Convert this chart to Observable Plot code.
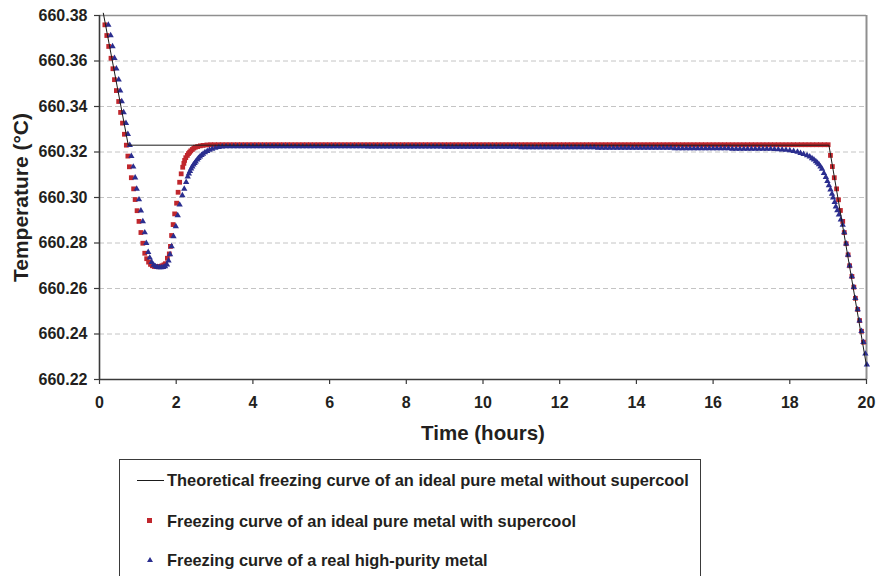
<!DOCTYPE html>
<html>
<head>
<meta charset="utf-8">
<script src="https://cdn.jsdelivr.net/npm/d3@7"></script>
<script src="https://cdn.jsdelivr.net/npm/@observablehq/plot@0.6"></script>
<style>
  html, body { margin: 0; padding: 0; background: #fff; }
  #wrap { position: relative; width: 885px; height: 576px; overflow: hidden; background: #fff;
          font-family: "Liberation Sans", Arial, sans-serif; color: #231f20; }
  #chart { position: absolute; left: 0; top: 0; }
  #legend { position: absolute; left: 119px; top: 459px; width: 582px; height: 150px;
            border: 1.5px solid #3a3a3a; box-sizing: border-box; background: #fff; }
  .row { position: absolute; left: 0; height: 20px; line-height: 20px; font-weight: bold; font-size: 16.4px; white-space: nowrap; }
  .txt { position: absolute; left: 47px; top: 0; }
  .sw { position: absolute; }
</style>
</head>
<body>
<div id="wrap">
  <div id="chart"></div>
  <div id="legend"></div>
</div>
<script>
// ---------- data ----------
const xTicks = [0, 2, 4, 6, 8, 10, 12, 14, 16, 18, 20];
const yTicks = [660.22, 660.24, 660.26, 660.28, 660.30, 660.32, 660.34, 660.36, 660.38];

const seriesNames = [
  "Theoretical freezing curve of an ideal pure metal without supercool",
  "Freezing curve of an ideal pure metal with supercool",
  "Freezing curve of a real high-purity metal"
];

// Theoretical curve (no supercool)
const theoHours = [0.10, 0.75, 19.02, 20.0];
const theoTemps = [660.381, 660.323, 660.323, 660.226];

// Ideal metal with supercool (red squares)
const redDipHours = [0.14,0.19,0.24,0.30,0.35,0.39,0.44,0.50,0.55,0.60,
  0.65,0.70,0.74,0.78,0.83,0.89,0.93,0.98,1.03,1.08,
  1.13,1.18,1.23,1.28,1.33,1.38,1.43,1.48,1.53,1.58,
  1.63,1.68,1.72,1.77,1.82,1.85,1.88,1.92,1.96,2.01,
  2.05,2.09,2.13,2.17,2.20,2.22,2.25,2.29,2.32,2.35,
  2.38,2.42,2.46,2.50,2.56,2.63,2.70,2.80,2.90,3.00];
const redDipTemps = [660.3759,660.3712,660.3664,660.3612,660.3566,660.3518,660.3470,660.3422,660.3374,660.3327,
  660.3278,660.3230,660.3182,660.3135,660.3087,660.3038,660.2991,660.2942,660.2895,660.2846,
  660.2799,660.2755,660.2731,660.2716,660.2706,660.2700,660.2697,660.2696,660.2696,660.2697,
  660.2700,660.2704,660.2709,660.2733,660.2752,660.2785,660.2833,660.2881,660.2928,660.2975,
  660.3023,660.3067,660.3104,660.3133,660.3150,660.3163,660.3175,660.3185,660.3193,660.3199,
  660.3205,660.3211,660.3217,660.3221,660.3224,660.3227,660.3229,660.3231,660.3232,660.3232];

const redPlateauHours = [
  3.1,3.2,3.3,3.4,3.5,3.6,3.7,3.8,3.9,4.0,
  4.1,4.2,4.3,4.4,4.5,4.6,4.7,4.8,4.9,5.0,
  5.1,5.2,5.3,5.4,5.5,5.6,5.7,5.8,5.9,6.0,
  6.1,6.2,6.3,6.4,6.5,6.6,6.7,6.8,6.9,7.0,
  7.1,7.2,7.3,7.4,7.5,7.6,7.7,7.8,7.9,8.0,
  8.1,8.2,8.3,8.4,8.5,8.6,8.7,8.8,8.9,9.0,
  9.1,9.2,9.3,9.4,9.5,9.6,9.7,9.8,9.9,10.0,
  10.1,10.2,10.3,10.4,10.5,10.6,10.7,10.8,10.9,11.0,
  11.1,11.2,11.3,11.4,11.5,11.6,11.7,11.8,11.9,12.0,
  12.1,12.2,12.3,12.4,12.5,12.6,12.7,12.8,12.9,13.0,
  13.1,13.2,13.3,13.4,13.5,13.6,13.7,13.8,13.9,14.0,
  14.1,14.2,14.3,14.4,14.5,14.6,14.7,14.8,14.9,15.0,
  15.1,15.2,15.3,15.4,15.5,15.6,15.7,15.8,15.9,16.0,
  16.1,16.2,16.3,16.4,16.5,16.6,16.7,16.8,16.9,17.0,
  17.1,17.2,17.3,17.4,17.5,17.6,17.7,17.8,17.9,18.0,
  18.1,18.2,18.3,18.4,18.5,18.6,18.7,18.8,18.9,19.0];
const redPlateauTemps = [
  660.3232,660.3232,660.3232,660.3232,660.3232,660.3232,660.3232,660.3232,660.3232,660.3232,
  660.3232,660.3232,660.3232,660.3232,660.3232,660.3232,660.3232,660.3232,660.3232,660.3232,
  660.3232,660.3232,660.3232,660.3232,660.3232,660.3232,660.3232,660.3232,660.3232,660.3232,
  660.3232,660.3232,660.3232,660.3232,660.3232,660.3232,660.3232,660.3232,660.3232,660.3232,
  660.3232,660.3232,660.3232,660.3232,660.3232,660.3232,660.3232,660.3232,660.3232,660.3232,
  660.3232,660.3232,660.3232,660.3232,660.3232,660.3232,660.3232,660.3232,660.3232,660.3232,
  660.3232,660.3232,660.3232,660.3232,660.3232,660.3232,660.3232,660.3232,660.3232,660.3232,
  660.3232,660.3232,660.3232,660.3232,660.3232,660.3232,660.3232,660.3232,660.3232,660.3232,
  660.3232,660.3232,660.3232,660.3232,660.3232,660.3232,660.3232,660.3232,660.3232,660.3232,
  660.3232,660.3232,660.3232,660.3232,660.3232,660.3232,660.3232,660.3232,660.3232,660.3232,
  660.3232,660.3232,660.3232,660.3232,660.3232,660.3232,660.3232,660.3232,660.3232,660.3232,
  660.3232,660.3232,660.3232,660.3232,660.3232,660.3232,660.3232,660.3232,660.3232,660.3232,
  660.3232,660.3232,660.3232,660.3232,660.3232,660.3232,660.3232,660.3232,660.3232,660.3232,
  660.3232,660.3232,660.3232,660.3232,660.3232,660.3232,660.3232,660.3232,660.3232,660.3232,
  660.3232,660.3232,660.3232,660.3232,660.3232,660.3232,660.3232,660.3232,660.3232,660.3232,
  660.3232,660.3232,660.3232,660.3232,660.3232,660.3232,660.3232,660.3232,660.3232,660.3232];

const redDropHours = [19.06,19.11,19.16,19.22,19.27,19.32,19.38,19.42,19.47,19.52,
  19.56,19.62,19.67,19.71,19.77,19.82,19.87,19.92];
const redDropTemps = [660.3185,660.3136,660.3087,660.3038,660.2990,660.2943,660.2895,660.2846,660.2797,660.2748,
  660.2700,660.2653,660.2606,660.2557,660.2508,660.2459,660.2412,660.2364];

// Real high-purity metal (blue triangles)
const blueDipHours = [0.23,0.29,0.34,0.39,0.44,0.50,0.54,0.58,0.63,0.69,
  0.74,0.79,0.83,0.88,0.93,0.97,1.03,1.08,1.13,1.18,
  1.22,1.27,1.31,1.36,1.41,1.46,1.51,1.56,1.61,1.66,
  1.71,1.76,1.80,1.84,1.88,1.93,1.99,2.04,2.09,2.16,
  2.21,2.26,2.30,2.33,2.36,2.39,2.42,2.45,2.48,2.51,
  2.55,2.58,2.62,2.66,2.70,2.75,2.81,2.87,2.94,3.02,
  3.11,3.20,3.30];
const blueDipTemps = [660.3759,660.3712,660.3664,660.3612,660.3566,660.3518,660.3470,660.3422,660.3374,660.3327,
  660.3278,660.3230,660.3182,660.3135,660.3087,660.3038,660.2991,660.2942,660.2895,660.2846,
  660.2799,660.2760,660.2735,660.2716,660.2704,660.2697,660.2694,660.2693,660.2693,660.2694,
  660.2697,660.2705,660.2722,660.2750,660.2785,660.2829,660.2873,660.2921,660.2968,660.3009,
  660.3038,660.3067,660.3092,660.3105,660.3116,660.3127,660.3136,660.3144,660.3151,660.3158,
  660.3166,660.3173,660.3180,660.3186,660.3192,660.3198,660.3204,660.3209,660.3214,660.3218,
  660.3221,660.3223,660.3225];

const bluePlateauHours = [
  3.4,3.5,3.6,3.7,3.8,3.9,
  4.0,4.1,4.2,4.3,4.4,4.5,4.6,4.7,4.8,4.9,
  5.0,5.1,5.2,5.3,5.4,5.5,5.6,5.7,5.8,5.9,
  6.0,6.1,6.2,6.3,6.4,6.5,6.6,6.7,6.8,6.9,
  7.0,7.1,7.2,7.3,7.4,7.5,7.6,7.7,7.8,7.9,
  8.0,8.1,8.2,8.3,8.4,8.5,8.6,8.7,8.8,8.9,
  9.0,9.1,9.2,9.3,9.4,9.5,9.6,9.7,9.8,9.9,
  10.0,10.1,10.2,10.3,10.4,10.5,10.6,10.7,10.8,10.9,
  11.0,11.1,11.2,11.3,11.4,11.5,11.6,11.7,11.8,11.9,
  12.0,12.1,12.2,12.3,12.4,12.5,12.6,12.7,12.8,12.9,
  13.0,13.1,13.2,13.3,13.4,13.5,13.6,13.7,13.8,13.9,
  14.0,14.1,14.2,14.3,14.4,14.5,14.6,14.7,14.8,14.9,
  15.0,15.1,15.2,15.3,15.4,15.5,15.6,15.7,15.8,15.9,
  16.0,16.1,16.2,16.3,16.4,16.5,16.6,16.7,16.8,16.9,
  17.0,17.1,17.2,17.3,17.4,17.5];
const bluePlateauTemps = [
  660.3225,660.3225,660.3225,660.3225,660.3225,660.3225,
  660.3225,660.3225,660.3225,660.3225,660.3225,660.3225,660.3225,660.3225,660.3225,660.3225,
  660.3224,660.3224,660.3224,660.3224,660.3224,660.3224,660.3224,660.3224,660.3224,660.3224,
  660.3224,660.3224,660.3224,660.3224,660.3224,660.3224,660.3224,660.3224,660.3224,660.3224,
  660.3223,660.3223,660.3223,660.3223,660.3223,660.3223,660.3223,660.3223,660.3223,660.3223,
  660.3223,660.3223,660.3223,660.3223,660.3223,660.3223,660.3223,660.3223,660.3223,660.3223,
  660.3222,660.3222,660.3222,660.3222,660.3222,660.3222,660.3222,660.3222,660.3222,660.3222,
  660.3222,660.3222,660.3222,660.3222,660.3222,660.3222,660.3222,660.3222,660.3222,660.3222,
  660.3220,660.3220,660.3220,660.3220,660.3220,660.3220,660.3220,660.3220,660.3220,660.3220,
  660.3220,660.3220,660.3220,660.3220,660.3220,660.3220,660.3220,660.3220,660.3220,660.3220,
  660.3218,660.3218,660.3218,660.3218,660.3218,660.3218,660.3218,660.3218,660.3218,660.3218,
  660.3218,660.3218,660.3218,660.3218,660.3218,660.3218,660.3218,660.3218,660.3218,660.3218,
  660.3216,660.3216,660.3216,660.3216,660.3216,660.3216,660.3216,660.3216,660.3216,660.3216,
  660.3216,660.3216,660.3216,660.3216,660.3216,660.3214,660.3214,660.3214,660.3214,660.3214,
  660.3214,660.3214,660.3214,660.3214,660.3214,660.3214];

const blueDropHours = [17.6,17.7,17.8,17.9,18.0,18.1,18.2,18.28,18.36,18.45,
  18.52,18.58,18.63,18.68,18.72,18.76,18.80,18.84,18.89,18.94,
  18.98,19.02,19.06,19.10,19.13,19.17,19.20,19.24,19.28,19.33,
  19.38,19.42,19.47,19.52,19.56,19.62,19.67,19.71,19.77,19.82,
  19.87,19.92,19.97,20.01];
const blueDropTemps = [660.3212,660.3211,660.3210,660.3209,660.3207,660.3204,660.3200,660.3195,660.3190,660.3185,
  660.3179,660.3172,660.3166,660.3159,660.3152,660.3145,660.3136,660.3126,660.3107,660.3089,
  660.3072,660.3053,660.3034,660.3016,660.2999,660.2979,660.2960,660.2943,660.2924,660.2903,
  660.2880,660.2846,660.2797,660.2748,660.2700,660.2653,660.2606,660.2557,660.2508,660.2459,
  660.2412,660.2364,660.2313,660.2265];

// ---------- build tables ----------
const zip = (h, t) => h.slice(0, Math.min(h.length, t.length)).map((x, i) => ({hours: x, temp: t[i]}));
const theo = zip(theoHours, theoTemps);
const red = [...zip(redDipHours, redDipTemps), ...zip(redPlateauHours, redPlateauTemps), ...zip(redDropHours, redDropTemps)];
const blue = [...zip(blueDipHours, blueDipTemps), ...zip(bluePlateauHours, bluePlateauTemps), ...zip(blueDropHours, blueDropTemps)];

const RED = "#c0272d", BLUE = "#2b2e8f", INK = "#231f20";

const chart = Plot.plot({
  width: 885,
  height: 455,
  marginLeft: 99,
  marginRight: 19,
  marginTop: 15,
  marginBottom: 76,
  x: {domain: [0, 20]},
  y: {domain: [660.22, 660.38]},
  style: {fontFamily: '"Liberation Sans", Arial, sans-serif', fontWeight: "bold", fontSize: "16px", color: INK, background: "white", overflow: "visible"},
  marks: [
    Plot.gridY(yTicks, {stroke: "#c4c4c4", strokeOpacity: 1, strokeDasharray: "5,3", strokeWidth: 1}),
    Plot.ruleY([660.38], {stroke: "#8f8f8f", strokeWidth: 1.5}),
    Plot.ruleX([20], {stroke: "#8f8f8f", strokeWidth: 2}),
    Plot.axisY(yTicks, {tickSize: 5, tickPadding: 7, tickFormat: d => d.toFixed(2), label: null, stroke: "#3a3a3a", strokeWidth: 1.2}),
    Plot.axisX(xTicks, {tickSize: 5, tickPadding: 12, tickFormat: d => String(d), label: null, stroke: "#3a3a3a", strokeWidth: 1.2}),
    Plot.ruleX([0], {stroke: "#3a3a3a", strokeWidth: 1.6}),
    Plot.ruleY([660.22], {stroke: "#3a3a3a", strokeWidth: 1.6}),
    Plot.dot(red, {x: "hours", y: "temp", symbol: "square", r: 2.7, fill: RED, stroke: null}),
    Plot.dot(blue, {x: "hours", y: "temp", symbol: "triangle", r: 2.35, fill: BLUE, stroke: null}),
    Plot.line(theo, {x: "hours", y: "temp", stroke: "#1a1a1a", strokeWidth: 1}),
    Plot.text(["Time (hours)"], {frameAnchor: "bottom", dy: 54, lineAnchor: "middle", textAnchor: "middle", fontSize: 20.5, fontWeight: "bold", fill: INK}),
    Plot.text(["Temperature (°C)"], {frameAnchor: "left", dx: -78, rotate: -90, textAnchor: "middle", lineAnchor: "middle", fontSize: 21, fontWeight: "bold", fill: INK})
  ]
});
document.getElementById("chart").appendChild(chart);

// ---------- legend ----------
const legend = document.getElementById("legend");
const rowCenters = [20, 61, 100]; // relative to legend box top
seriesNames.forEach((name, i) => {
  const row = document.createElement("div");
  row.className = "row";
  row.style.top = (rowCenters[i] - 10) + "px";
  row.style.width = "100%";
  const sw = document.createElement("div");
  sw.className = "sw";
  if (i === 0) {
    Object.assign(sw.style, {left: "17px", top: "10px", width: "27px", height: "1px", background: "#1a1a1a"});
  } else if (i === 1) {
    Object.assign(sw.style, {left: "27px", top: "7px", width: "5px", height: "5px", background: RED});
  } else {
    Object.assign(sw.style, {left: "27px", top: "7px", width: "0", height: "0",
      borderLeft: "3px solid transparent", borderRight: "3px solid transparent", borderBottom: "5px solid " + BLUE});
  }
  const t = document.createElement("span");
  t.className = "txt";
  t.textContent = name;
  row.appendChild(sw);
  row.appendChild(t);
  legend.appendChild(row);
});
</script>
</body>
</html>
